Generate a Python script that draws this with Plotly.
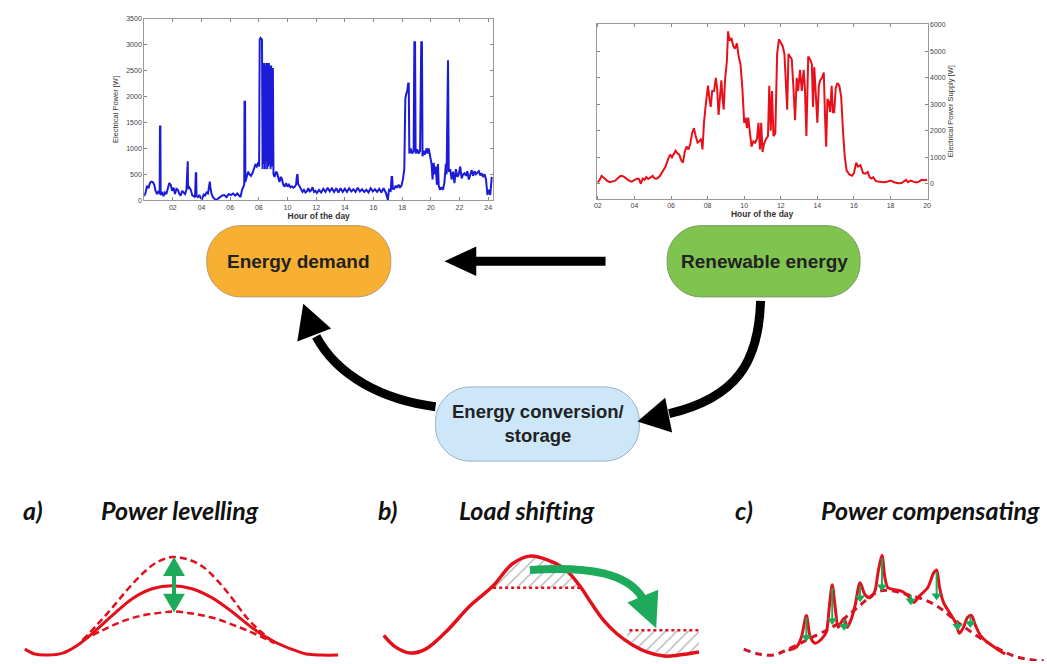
import plotly.graph_objects as go

# ---------------- data: energy demand (top-left) ----------------
demand_hour = [0.00,0.10,0.20,0.30,0.40,0.50,0.60,0.70,0.80,0.90,1.00,1.08,1.10,1.13,1.15,1.25,1.35,1.45,1.55,1.65,
               1.75,1.85,1.95,2.05,2.15,2.25,2.35,2.45,2.55,2.65,2.75,2.85,2.95,3.00,3.04,3.06,3.15,3.25,3.35,3.45,
               3.55,3.60,3.63,3.65,3.75,3.85,3.95,4.05,4.15,4.25,4.35,4.45,4.52,4.58,4.62,4.70,4.80,4.90,5.00,5.15,
               5.30,5.45,5.60,5.75,5.90,6.05,6.20,6.35,6.50,6.62,6.72,6.82,6.92,6.98,7.00,7.04,7.06,7.15,7.25,7.35,
               7.45,7.55,7.65,7.75,7.85,7.95,8.02,8.06,8.12,8.22,8.26,8.30,8.34,8.38,8.42,8.46,8.50,8.54,8.58,8.62,
               8.66,8.70,8.74,8.78,8.82,8.86,8.90,8.94,8.98,9.02,9.10,9.20,9.28,9.36,9.44,9.52,9.60,9.70,9.80,9.90,
               10.00,10.10,10.20,10.30,10.40,10.50,10.60,10.66,10.70,10.74,10.85,10.95,11.05,11.15,11.25,11.35,11.45,11.55,11.65,11.75,
               11.85,11.95,12.05,12.20,12.35,12.50,12.65,12.80,12.95,13.10,13.25,13.40,13.55,13.70,13.85,14.00,14.15,14.30,14.45,14.60,
               14.75,14.90,15.05,15.20,15.35,15.50,15.65,15.80,15.95,16.10,16.25,16.40,16.55,16.70,16.85,16.95,17.00,17.08,17.20,17.26,
               17.30,17.35,17.45,17.55,17.65,17.75,17.85,17.95,18.05,18.15,18.22,18.28,18.35,18.42,18.46,18.50,18.60,18.70,18.80,18.85,
               18.90,18.94,19.05,19.15,19.25,19.33,19.38,19.42,19.50,19.60,19.70,19.80,19.85,19.95,20.05,20.12,20.20,20.28,20.35,20.42,
               20.50,20.55,20.65,20.75,20.85,20.95,21.05,21.10,21.15,21.20,21.25,21.35,21.45,21.55,21.65,21.75,21.85,21.95,22.05,22.15,
               22.25,22.35,22.45,22.55,22.65,22.75,22.85,22.95,23.05,23.15,23.25,23.35,23.45,23.55,23.65,23.75,23.85,23.95,24.05,24.15,
               24.25]
demand_watts = [80,150,280,230,330,360,350,300,170,120,180,120,1420,1420,100,160,80,150,120,220,
                330,300,180,240,120,220,200,120,90,180,150,120,200,750,750,220,250,200,100,80,
                60,520,520,80,60,100,40,30,110,90,150,130,280,360,240,120,60,20,0,30,
                60,90,100,60,120,100,130,90,130,80,60,190,260,300,1900,1900,350,450,550,500,
                470,520,620,680,650,730,650,3100,3130,3100,600,2650,700,2650,600,2600,750,2650,600,2650,
                650,2650,700,2600,600,2600,650,2550,2550,500,450,550,520,430,350,450,420,300,260,330,
                260,300,250,270,240,260,300,480,500,320,260,220,160,200,150,170,230,170,190,250,
                160,180,140,200,150,220,160,240,170,230,160,230,150,230,160,220,160,230,170,210,
                160,240,170,210,160,200,150,230,170,210,160,220,150,230,150,60,0,200,180,450,
                450,220,220,280,240,300,250,280,400,600,1950,2050,2100,2250,2250,900,1000,900,950,3050,
                3050,900,980,900,950,3050,3050,850,950,880,1000,900,1000,850,700,400,720,500,650,300,
                700,280,200,250,200,350,700,500,2700,2700,550,600,400,550,330,600,450,500,650,420,
                500,520,470,560,400,520,580,470,560,500,530,560,480,520,450,500,400,100,200,100,
                450]

# ---------------- data: renewable supply (top-right) ----------------
supply_hour = [2.00,2.10,2.20,2.35,2.50,2.65,2.80,2.95,3.10,3.25,3.40,3.55,3.70,3.85,4.00,4.15,4.25,4.35,4.45,4.55,
               4.65,4.75,4.90,5.00,5.10,5.25,5.40,5.55,5.70,5.85,5.95,6.05,6.15,6.25,6.35,6.45,6.55,6.65,6.75,6.85,
               6.95,7.05,7.15,7.25,7.35,7.45,7.55,7.65,7.72,7.80,7.90,8.02,8.10,8.17,8.25,8.35,8.45,8.52,8.60,8.68,
               8.75,8.82,8.88,8.95,9.05,9.12,9.20,9.30,9.40,9.50,9.60,9.70,9.80,9.90,10.00,10.08,10.15,10.22,10.30,10.40,
               10.50,10.60,10.70,10.78,10.86,10.93,11.00,11.08,11.20,11.30,11.37,11.45,11.52,11.60,11.70,11.80,11.90,12.00,12.10,12.20,
               12.28,12.35,12.42,12.50,12.60,12.70,12.78,12.87,12.95,13.05,13.15,13.25,13.32,13.40,13.50,13.60,13.70,13.76,13.83,13.92,
               14.00,14.08,14.15,14.25,14.35,14.42,14.48,14.55,14.62,14.70,14.78,14.85,14.92,15.00,15.10,15.20,15.30,15.40,15.50,15.60,
               15.75,15.90,16.00,16.12,16.22,16.35,16.50,16.62,16.75,16.85,16.95,17.05,17.20,17.40,17.60,17.80,18.00,18.20,18.40,18.60,
               18.75,18.85,18.95,19.10,19.25,19.40,19.55,19.70,19.85,20.00]
supply_watts = [50,150,300,200,120,60,100,120,220,300,280,200,120,80,150,200,180,0,200,150,
                250,180,250,300,200,200,300,500,650,950,1100,1000,1150,1250,1150,1100,900,800,1200,1400,
                1300,1500,1900,2100,1800,1550,1600,1700,1300,2300,3000,3700,3200,2900,3500,3500,4000,3600,2600,3500,
                3900,3200,2800,3900,4600,5750,5400,5500,5200,5100,5300,4800,4500,3600,2300,2500,2100,2500,2000,1400,
                1600,1550,1700,2300,1300,2300,1200,1500,1700,1800,3700,2000,3500,1800,1900,4900,5450,5300,5200,4900,
                4000,2800,4900,4800,4700,3500,2400,4000,3500,4300,3500,4300,3600,1800,4800,4700,4500,2900,4400,3300,
                2300,3700,3900,4000,4200,2500,1400,3200,3100,2700,3700,2700,2700,3600,3800,3700,3300,2000,1000,500,
                350,300,400,800,650,700,400,380,450,250,200,250,100,80,60,80,120,60,20,30,
                100,150,60,120,80,50,80,150,130,150]

demand_xticks = [2, 4, 6, 8, 10, 12, 14, 16, 18, 20, 22, 24]
demand_xlabels = ["02", "04", "06", "08", "10", "12", "14", "16", "18", "20", "22", "24"]
demand_yticks = [0, 500, 1000, 1500, 2000, 2500, 3000, 3500]
supply_xticks = [2, 4, 6, 8, 10, 12, 14, 16, 18, 20]
supply_xlabels = ["02", "04", "06", "08", "10", "12", "14", "16", "18", "20"]
supply_yticks = [0, 1000, 2000, 3000, 4000, 5000, 6000]

# ---------------- schematic sketches (page pixel coordinates) ----------------
lev_solid_x = [22, 32, 45, 60, 75, 90, 110, 130, 150, 170, 190, 210, 230, 250, 270, 290, 305, 320, 337]
lev_solid_y = [652, 657, 658, 656, 648, 636, 618, 601, 591, 588, 591, 600, 614, 630, 643, 652, 657, 658, 658]
lev_upper_x = [80, 95, 110, 125, 140, 155, 170, 185, 200, 215, 230, 245, 260, 273]
lev_upper_y = [643, 627, 610, 592, 576, 564, 559, 561, 568, 582, 600, 620, 635, 645]
lev_lower_x = [80, 100, 120, 140, 160, 172, 190, 210, 230, 250, 273]
lev_lower_y = [643, 633, 624, 618, 615, 614, 616, 620, 627, 635, 646]

shift_x = [383, 395, 410, 425, 445, 470, 493, 512, 530, 548, 565, 580, 592, 605, 618, 632, 648, 665, 680, 700]
shift_y = [638, 650, 656, 652, 635, 608, 588, 566, 558, 562, 571, 588, 606, 624, 637, 647, 655, 659, 658, 655]
shift_top_x = [493, 500, 512, 520, 530, 540, 548, 557, 565, 574, 581, 493]
shift_top_y = [588, 578, 566, 561, 558, 559, 562, 566, 571, 579, 590, 590]
shift_bot_x = [623, 700, 700, 690, 677, 662, 648, 636, 623]
shift_bot_y = [633, 633, 655, 658, 659, 658, 655, 648, 633]
shift_level_top = [493, 582, 590]   # x0, x1, y
shift_level_bot = [630, 700, 633]

comp_solid_x = [790, 798, 803, 808, 812, 817, 823, 828, 831, 834, 837, 840, 843, 846, 849, 853, 857, 862, 867, 872,
                877, 880, 884, 887, 890, 897, 905, 912, 916, 922, 930, 936, 939, 942, 946, 952, 958, 962, 966, 970,
                974, 978, 983, 990, 1000, 1008]
comp_solid_y = [653, 650, 640, 618, 640, 646, 642, 635, 610, 587, 610, 630, 625, 621, 630, 622, 608, 585, 597, 600,
                593, 575, 557, 580, 590, 592, 594, 600, 605, 598, 590, 575, 572, 590, 605, 615, 625, 636, 630, 620,
                618, 628, 638, 645, 652, 657]
comp_dash_x = [745, 760, 775, 790, 810, 837, 857, 883, 910, 937, 963, 993, 1020, 1047]
comp_dash_y = [652, 657, 658, 652, 642, 628, 612, 593, 597, 607, 627, 647, 660, 664]
comp_arrow_x = [808, 834, 846, 862, 884, 913, 939, 960, 973]
comp_arrow_top = [620, 590, 622, 588, 560, 597, 574, 624, 619]
comp_arrow_bot = [643, 626, 632, 603, 592, 606, 601, 632, 629]

RED = "#e3101c"
GREEN = "#1daa5a"
fig = go.Figure()

fig.add_trace(go.Scatter(x=demand_hour, y=demand_watts, mode="lines", xaxis="x", yaxis="y",
                         line=dict(color="#1c1cd8", width=2), showlegend=False))
fig.add_trace(go.Scatter(x=supply_hour, y=supply_watts, mode="lines", xaxis="x2", yaxis="y2",
                         line=dict(color="#e8101a", width=2), showlegend=False))

# schematic traces on full-page axis
def sk(x, y, **kw):
    fig.add_trace(go.Scatter(x=x, y=y, xaxis="x3", yaxis="y3", showlegend=False, hoverinfo="skip", **kw))

# hatched areas
for hx, hy in [(shift_top_x, shift_top_y), (shift_bot_x, shift_bot_y)]:
    sk(hx, hy, mode="lines", fill="toself", line=dict(width=0, color="rgba(0,0,0,0)"),
       fillcolor="rgba(0,0,0,0)",
       fillpattern=dict(shape="/", fgcolor="#6e6e6e", bgcolor="white", size=8, solidity=0.18))

sk(lev_upper_x, lev_upper_y, mode="lines", line=dict(color=RED, width=2.5, dash="7px,4px", shape="spline"))
sk(lev_lower_x, lev_lower_y, mode="lines", line=dict(color=RED, width=2.5, dash="7px,4px", shape="spline"))
sk(lev_solid_x, lev_solid_y, mode="lines", line=dict(color=RED, width=3, shape="spline"))

sk([shift_level_top[0], shift_level_top[1]], [shift_level_top[2]] * 2, mode="lines",
   line=dict(color=RED, width=2.5, dash="dot"))
sk([shift_level_bot[0], shift_level_bot[1]], [shift_level_bot[2]] * 2, mode="lines",
   line=dict(color=RED, width=2.5, dash="dot"))
sk(shift_x, shift_y, mode="lines", line=dict(color=RED, width=3.5, shape="spline"))

sk(comp_dash_x, comp_dash_y, mode="lines", line=dict(color="#d0142a", width=3, dash="7px,5px", shape="spline"))
sk(comp_solid_x, comp_solid_y, mode="lines", line=dict(color=RED, width=3, shape="spline", smoothing=0.8))
ax, ay = [], []
for x, t, b in zip(comp_arrow_x, comp_arrow_top, comp_arrow_bot):
    ax += [x, x, None]
    ay += [t, b - 3, None]
sk(ax, ay, mode="lines", line=dict(color=GREEN, width=2))
sk(comp_arrow_x, [b - 3 for b in comp_arrow_bot], mode="markers",
   marker=dict(symbol="triangle-down", size=9, color=GREEN))

# ---------------- shapes (boxes & arrows) ----------------
def pill(x0, y0, x1, y1, r):
    k = 0.45 * r
    return (f"M {x0+r},{y0} L {x1-r},{y0} C {x1-k},{y0} {x1},{y0+k} {x1},{y0+r} L {x1},{y1-r} "
            f"C {x1},{y1-k} {x1-k},{y1} {x1-r},{y1} L {x0+r},{y1} C {x0+k},{y1} {x0},{y1-k} {x0},{y1-r} "
            f"L {x0},{y0+r} C {x0},{y0+k} {x0+k},{y0} {x0+r},{y0} Z")

shapes = []
def shp(path, fill=None, color="black", width=0):
    shapes.append(dict(type="path", path=path, xref="x3", yref="y3",
                       fillcolor=fill if fill else "rgba(0,0,0,0)",
                       line=dict(color=color, width=width), layer="above"))

shp(pill(205, 224, 390, 296, 34), fill="#f8b033", color="#b89a6a", width=1)
shp(pill(668, 224, 862, 296, 34), fill="#7ec44f", color="#7a9a66", width=1)
shp(pill(435, 387, 640, 462, 35), fill="#cde7f9", color="#97b3c8", width=1)

# straight arrow
shp("M 606,260 L 472,260", color="black", width=9)
shp("M 444,260 L 476,245 L 476,275 Z", fill="black", color="black", width=0)
# curved arrow green -> blue
shp("M 762,300 C 760,362 738,398 670,414", color="black", width=9)
shp("M 638,422 L 666,398 L 673,433 Z", fill="black", color="black", width=0)
# curved arrow blue -> orange
shp("M 435,407 C 382,400 336,376 315,336", color="black", width=9)
shp("M 302,303 L 296,341 L 330,328 Z", fill="black", color="black", width=0)

# green arrows in sketches
shp("M 172,574 L 172,600", color=GREEN, width=4)
shp("M 172,559 L 161,578 L 183,578 Z", fill=GREEN, color=GREEN, width=0)
shp("M 172,615 L 161,596 L 183,596 Z", fill=GREEN, color=GREEN, width=0)
shp("M 530,572 C 592,568 628,576 643,600", color=GREEN, width=8)
shp("M 657,631 L 628,605 L 659,592 Z", fill=GREEN, color=GREEN, width=0)

# ---------------- annotations ----------------
ann = []
def txt(x, y, s, size, family, color="#1a1a1a", **kw):
    ann.append(dict(x=x, y=y, xref="x3", yref="y3", text=s, showarrow=False,
                    font=dict(size=size, family=family, color=color), **kw))

BOX_FONT = "Liberation Sans, Arial, sans-serif"
txt(297, 260, "<b>Energy demand</b>", 19, BOX_FONT, color="#222")
txt(766, 260, "<b>Renewable energy</b>", 19, BOX_FONT, color="#222")
txt(538, 424, "<b>Energy conversion/<br>storage</b>", 18.5, BOX_FONT, color="#222")

TITLE_FONT = "Lato, Open Sans, sans-serif"
for x, s in [(30, "a)"), (178, "Power levelling"), (387, "b)"), (527, "Load shifting"),
             (745, "c)"), (933, "Power compensating")]:
    txt(x, 511, f"<b><i>{s}</i></b>", 25, TITLE_FONT, color="#111111")

tickfont = dict(size=7, family="Liberation Sans, Arial", color="#444")
axfont = dict(size=8.5, family="Liberation Sans, Arial", color="#333")

fig.update_layout(
    width=1047, height=664, margin=dict(l=0, r=0, t=0, b=0),
    paper_bgcolor="white", plot_bgcolor="rgba(0,0,0,0)", showlegend=False,
    shapes=shapes, annotations=ann,
    xaxis=dict(domain=[142/1047, 493/1047], anchor="y", range=[0, 24.35],
               tickvals=demand_xticks, ticktext=demand_xlabels, ticks="inside", ticklen=3,
               tickcolor="#888", showline=True, linecolor="#999", linewidth=1, mirror="ticks",
               showgrid=False, zeroline=False, tickfont=tickfont,
               title=dict(text="<b>Hour of the day</b>", font=axfont, standoff=0)),
    yaxis=dict(domain=[(664-198.3)/664, (664-15)/664], anchor="x", range=[0, 3500],
               tickvals=demand_yticks, ticks="inside", ticklen=3, tickcolor="#888",
               showline=True, linecolor="#999", linewidth=1, mirror="ticks",
               showgrid=False, zeroline=False, tickfont=tickfont,
               title=dict(text="Electrical Power [W]", font=dict(size=7.5, family="Liberation Sans, Arial", color="#333"), standoff=6)),
    xaxis2=dict(domain=[597/1047, 930/1047], anchor="y2", range=[1.93, 20.03],
                tickvals=supply_xticks, ticktext=supply_xlabels, ticks="inside", ticklen=3,
                tickcolor="#888", showline=True, linecolor="#999", linewidth=1, mirror="ticks",
                showgrid=False, zeroline=False, tickfont=tickfont,
                title=dict(text="<b>Hour of the day</b>", font=axfont, standoff=0)),
    yaxis2=dict(domain=[(664-196.7)/664, (664-20)/664], anchor="x2", range=[-560, 6037], side="right",
                tickvals=supply_yticks, ticks="inside", ticklen=3, tickcolor="#888",
                showline=True, linecolor="#999", linewidth=1, mirror="ticks",
                showgrid=False, zeroline=False, tickfont=tickfont,
                title=dict(text="Electrical Power Supply [W]", font=dict(size=7.5, family="Liberation Sans, Arial", color="#333"), standoff=3)),
    xaxis3=dict(domain=[0, 1], anchor="y3", range=[0, 1047], visible=False, fixedrange=True),
    yaxis3=dict(domain=[0, 1], anchor="x3", range=[664, 0], visible=False, fixedrange=True),
)

fig.write_html("out.html")
